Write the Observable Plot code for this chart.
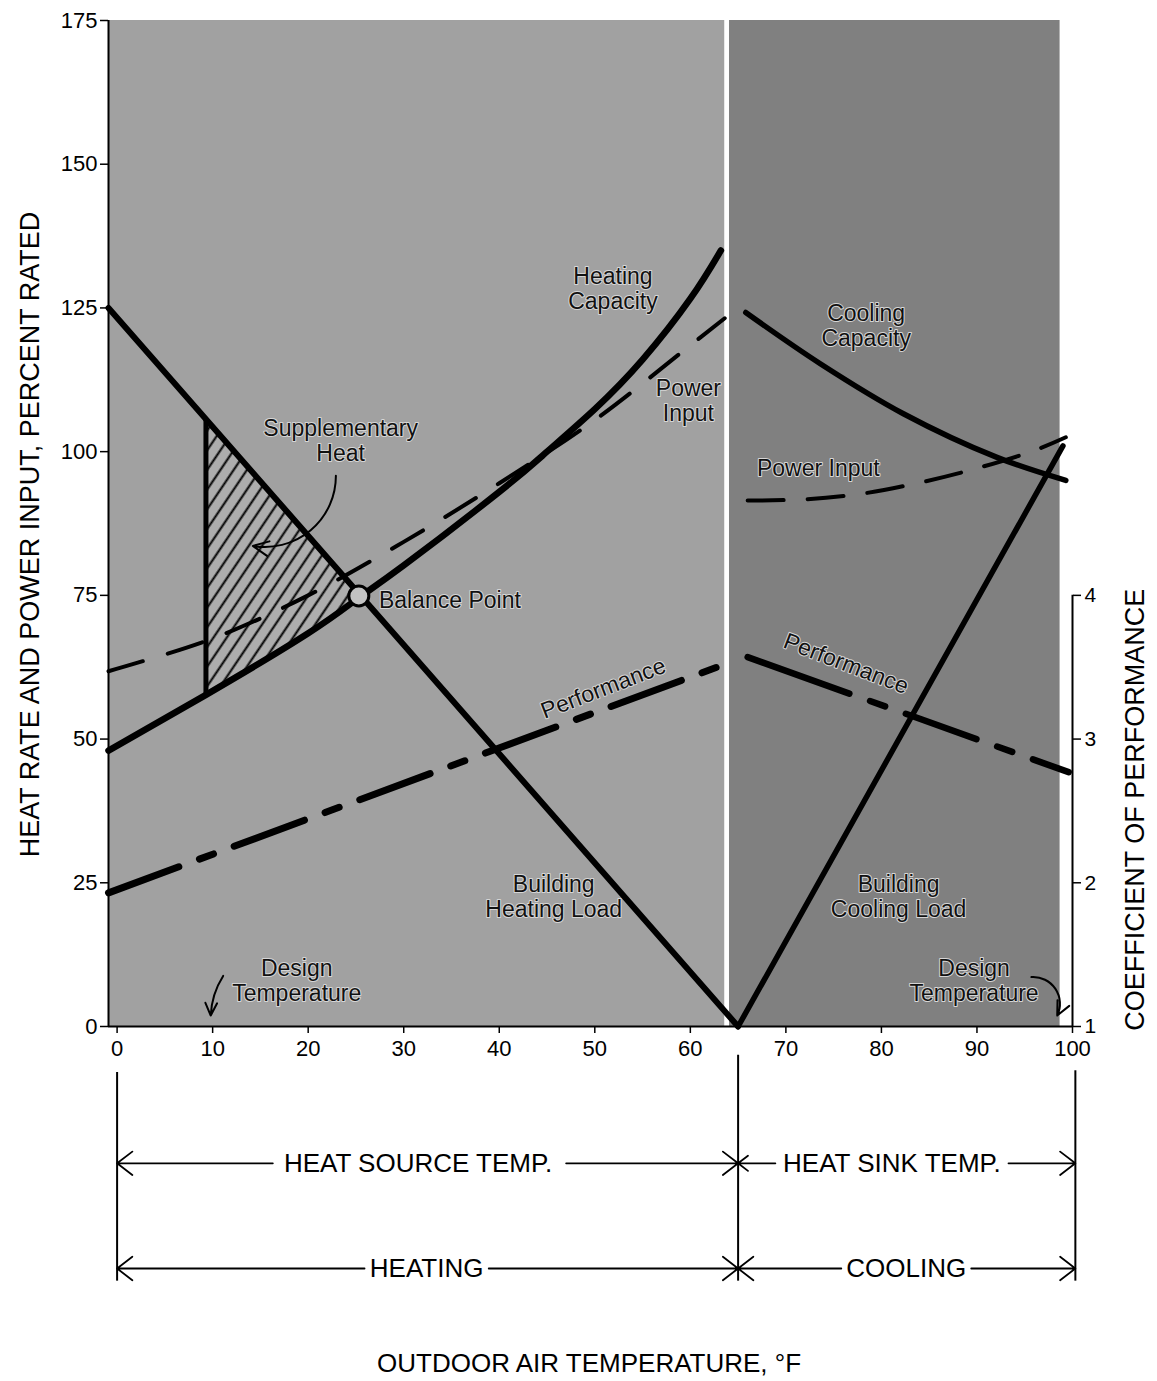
<!DOCTYPE html>
<html>
<head>
<meta charset="utf-8">
<script src="https://cdn.jsdelivr.net/npm/d3@7"></script>
<script src="https://cdn.jsdelivr.net/npm/@observablehq/plot@0.6"></script>
<style>
  body { margin: 0; background: #fff; }
  #chart svg { overflow: visible; }
</style>
</head>
<body>
<div id="chart"></div>
<script>
// ---------- axis ticks ----------
const xTicks = [0, 10, 20, 30, 40, 50, 60, 70, 80, 90, 100];
const yTicks = [0, 25, 50, 75, 100, 125, 150, 175];
const copTicks = [1, 2, 3, 4];

// ---------- shaded regions (outdoor temperature, °F) ----------
const regionStart = [-0.9, 64.1];
const regionEnd = [63.6, 98.7];
const regionFill = ["#a1a1a1", "#808080"];

// ---------- heating side ----------
const heatCapT = [-0.9, 9.3, 20, 25.3, 30, 40, 45, 50, 55, 60, 63.2];
const heatCapV = [48, 57.7, 68.4, 74.6, 80.2, 93.0, 100.0, 107.4, 116.0, 126.6, 135];

const heatPowT = [-0.9, 10, 20, 30, 40, 50, 60, 63.6];
const heatPowV = [61.8, 67.5, 75, 84.3, 94.5, 105.5, 118.5, 123.2];

const heatLoadT = [-0.9, 65];
const heatLoadV = [125, 0];

const heatPerfT = [-0.9, 63.2];
const heatPerfCop = [1.93, 3.51];

// supplementary heat (hatched)
const suppT = [9.3, 15, 20, 25.3];
const suppLow = [57.7, 63.0, 68.4, 74.6];
const suppHigh = [105.6, 94.8, 85.4, 75.3];

const balanceT = [25.3];
const balanceV = [74.9];

// ---------- cooling side ----------
const coolCapT = [65.8, 73.6, 82.3, 92.1, 99.3];
const coolCapV = [124.2, 115.3, 106.6, 99, 95];

const coolPowT = [66, 72, 78, 84, 90, 96, 99.3];
const coolPowV = [91.5, 91.7, 92.7, 94.6, 97.1, 100.2, 102.5];

const coolLoadT = [65, 99];
const coolLoadV = [0, 101];

const coolPerfT = [66, 99.6];
const coolPerfCop = [3.57, 2.77];

// ---------- in-chart labels ----------
const labelText = ["Heating\nCapacity", "Power\nInput", "Supplementary\nHeat", "Building\nHeating Load",
  "Design\nTemperature", "Cooling\nCapacity", "Power Input", "Building\nCooling Load", "Design\nTemperature"];
const labelT = [51.9, 59.8, 23.4, 45.7, 18.8, 78.4, 73.4, 81.8, 89.7];
const labelV = [128.4, 108.9, 101.9, 22.6, 8.0, 121.9, 97.2, 22.6, 8.0];

const perfLabelT = [50.9, 76.3];
const perfLabelV = [58.8, 63.1];
const perfLabelRot = [-21, 21];

// curved pointer arrows: supplementary heat, left design temp, right design temp
const ptrX1 = [22.9, 11.1, 95.7];
const ptrY1 = [95.8, 8.8, 8.6];
const ptrX2 = [14.2, 9.8, 98.4];
const ptrY2 = [83.6, 1.9, 1.9];
const ptrBend = [50, -15, 60];

// ---------- range annotations below the axis ----------
const bracketT = [0, 65, 100.3];
const bracketTop = [-8, -5, -7.7];
const bracketBottom = -44.3;

const rangeText = ["HEAT SOURCE TEMP.", "HEAT SINK TEMP.", "HEATING", "COOLING"];
const rangeCenter = [31.5, 81.1, 32.4, 82.6];
const rangeRow = [-23.8, -23.8, -42.1, -42.1];
const rangeArrowFrom = [16.3, 47.0, 68.9, 93.3, 25.9, 38.9, 75.8, 89.4];
const rangeArrowTo = [0, 65, 65, 100.3, 0, 65, 65, 100.3];
const rangeArrowRow = [-23.8, -23.8, -23.8, -23.8, -42.1, -42.1, -42.1, -42.1];

const font = "'Liberation Sans', Arial, Helvetica, sans-serif";
const cop = c => (c - 1) * 25;
const idx = a => a.map((_, i) => i);
const halo = {fill: "#111", stroke: "#d6d6d6", strokeWidth: 2};

const pointerMarks = ptrX1.map((_, i) =>
  Plot.arrow([i], {x1: () => ptrX1[i], y1: () => ptrY1[i], x2: () => ptrX2[i], y2: () => ptrY2[i],
    bend: ptrBend[i], stroke: "#000", strokeWidth: 2, headLength: 13, headAngle: 50}));

const plot = Plot.plot({
  width: 1157,
  height: 1381,
  marginTop: 20,
  marginBottom: 355,
  marginLeft: 108,
  marginRight: 85,
  x: {domain: [-0.9, 100]},
  y: {domain: [0, 175]},
  style: {fontFamily: font, fontSize: "22px", color: "#000", background: "#fff", overflow: "visible"},
  marks: [
    // backgrounds
    Plot.rect(idx(regionStart), {x1: i => regionStart[i], x2: i => regionEnd[i], y1: 0, y2: 175, fill: i => regionFill[i]}),
    // hatched supplementary heat
    Plot.areaY(idx(suppT), {x: i => suppT[i], y1: i => suppLow[i], y2: i => suppHigh[i], fill: "url(#hatch)", curve: "catmull-rom"}),
    // axes
    Plot.ruleX([-0.9], {y1: 0, y2: 175, stroke: "#000", strokeWidth: 2}),
    Plot.ruleY([0], {x1: -0.9, x2: 100, stroke: "#000", strokeWidth: 2}),
    Plot.ruleX([100], {y1: 0, y2: cop(4), stroke: "#000", strokeWidth: 2}),
    Plot.axisY({anchor: "left", ticks: yTicks, tickSize: 8, tickPadding: 3, label: null, strokeWidth: 1.5}),
    Plot.axisX({anchor: "bottom", ticks: xTicks, tickSize: 7, tickPadding: 7, label: null, strokeWidth: 1.5}),
    Plot.axisY({anchor: "right", ticks: copTicks.map(cop), tickFormat: v => String(v / 25 + 1), tickSize: 8, tickPadding: 4, label: null, strokeWidth: 1.5, fontSize: 21}),

    // heating lines
    Plot.line(idx(heatPowT), {x: i => heatPowT[i], y: i => heatPowV[i], curve: "catmull-rom", stroke: "#000", strokeWidth: 4, strokeDasharray: "36,26", strokeLinecap: "round"}),
    Plot.line(idx(heatPerfT), {x: i => heatPerfT[i], y: i => cop(heatPerfCop[i]), stroke: "#000", strokeWidth: 7, strokeDasharray: "75,22,15,22", strokeLinecap: "round"}),
    Plot.line(idx(heatLoadT), {x: i => heatLoadT[i], y: i => heatLoadV[i], stroke: "#000", strokeWidth: 6}),
    Plot.line(idx(heatCapT), {x: i => heatCapT[i], y: i => heatCapV[i], curve: "natural", stroke: "#000", strokeWidth: 6.5}),
    Plot.ruleX([suppT[0]], {y1: suppLow[0], y2: suppHigh[0], stroke: "#000", strokeWidth: 5}),

    // cooling lines
    Plot.line(idx(coolPowT), {x: i => coolPowT[i], y: i => coolPowV[i], curve: "catmull-rom", stroke: "#000", strokeWidth: 4, strokeDasharray: "36,24", strokeLinecap: "round"}),
    Plot.line(idx(coolPerfT), {x: i => coolPerfT[i], y: i => cop(coolPerfCop[i]), stroke: "#000", strokeWidth: 6.5, strokeDasharray: "108,22,16,22,75,22,16,22", strokeLinecap: "round"}),
    Plot.line(idx(coolLoadT), {x: i => coolLoadT[i], y: i => coolLoadV[i], stroke: "#000", strokeWidth: 5.5}),
    Plot.line(idx(coolCapT), {x: i => coolCapT[i], y: i => coolCapV[i], curve: "catmull-rom", stroke: "#000", strokeWidth: 5.5}),

    // balance point
    Plot.dot(idx(balanceT), {x: i => balanceT[i], y: i => balanceV[i], r: 10, fill: "#c2c2c2", stroke: "#000", strokeWidth: 3}),
    Plot.text(["Balance Point"], {x: 27.4, y: 74.1, text: d => d, textAnchor: "start", fontSize: 23, ...halo}),

    // labels
    Plot.text(idx(labelText), {x: i => labelT[i], y: i => labelV[i], text: i => labelText[i], fontSize: 23, lineHeight: 1.1, ...halo}),
    Plot.text(idx(perfLabelT), {x: i => perfLabelT[i], y: i => perfLabelV[i], text: () => "Performance", rotate: i => perfLabelRot[i], fontSize: 23, ...halo}),

    // pointer arrows
    ...pointerMarks,

    // bracket lines below the chart
    Plot.ruleX(idx(bracketT), {x: i => bracketT[i], y1: i => bracketTop[i], y2: bracketBottom, stroke: "#000", strokeWidth: 2}),
    Plot.arrow(idx(rangeArrowFrom), {x1: i => rangeArrowFrom[i], x2: i => rangeArrowTo[i], y1: i => rangeArrowRow[i], y2: i => rangeArrowRow[i], stroke: "#000", strokeWidth: 1.8, headLength: 16, headAngle: 75}),
    Plot.text(idx(rangeText), {x: i => rangeCenter[i], y: i => rangeRow[i], text: i => rangeText[i], fontSize: 26, fill: "#000"}),

    // axis titles
    Plot.text(["OUTDOOR AIR TEMPERATURE, °F"], {x: 49.4, y: -58.6, text: d => d, fontSize: 26, fill: "#000"}),
    Plot.text(["HEAT RATE AND POWER INPUT, PERCENT RATED"], {x: -9.1, y: 85.6, text: d => d, rotate: -90, fontSize: 27, fill: "#000"}),
    Plot.text(["COEFFICIENT OF PERFORMANCE"], {x: 106.6, y: 37.7, text: d => d, rotate: -90, fontSize: 27, fill: "#000"})
  ]
});

// hatch pattern definition
const defs = d3.create("svg:defs");
const pat = defs.append("pattern")
  .attr("id", "hatch")
  .attr("patternUnits", "userSpaceOnUse")
  .attr("width", 11)
  .attr("height", 11)
  .attr("patternTransform", "rotate(34)");
pat.append("rect").attr("width", 11).attr("height", 11).attr("fill", "#adadad");
pat.append("line").attr("x1", 5.5).attr("x2", 5.5).attr("y1", 0).attr("y2", 11).attr("stroke", "#000").attr("stroke-width", 2);
plot.insertBefore(defs.node(), plot.firstChild);

document.getElementById("chart").appendChild(plot);
</script>
</body>
</html>
